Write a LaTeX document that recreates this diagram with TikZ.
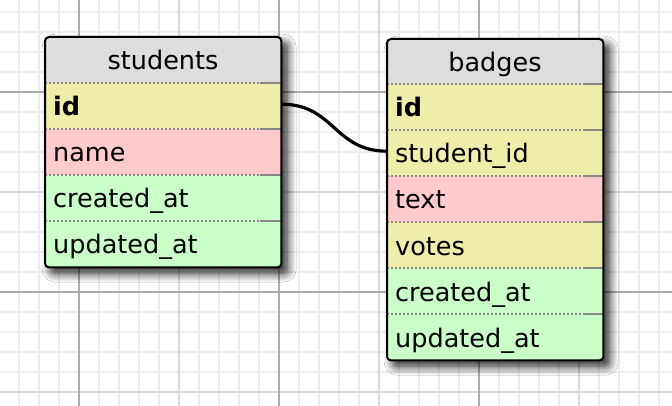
\documentclass[tikz,border=0pt]{standalone}
\usepackage{fontspec}
\setmainfont{DejaVu Sans}
\usetikzlibrary{shadows.blur}
\definecolor{hdr}{HTML}{DDDDDD}
\definecolor{kyel}{HTML}{EEEDAA}
\definecolor{kred}{HTML}{FFCACA}
\definecolor{kgrn}{HTML}{CAFFCA}
\definecolor{gminor}{HTML}{EDEDED}
\definecolor{gmed}{HTML}{D9D9D9}
\definecolor{gmaj}{HTML}{ABABAB}
\definecolor{sepc}{HTML}{888888}
\tikzset{
  tablebox/.style={rectangle, rounded corners=4pt, fill=white, inner sep=0pt, anchor=north west,
    blur shadow={shadow xshift=6pt, shadow yshift=-6pt, shadow blur radius=9pt, shadow opacity=90, shadow blur steps=12}},
  rowbox/.style={rectangle, inner sep=0pt, anchor=north west, minimum height=46pt},
  lbl/.style={inner sep=0pt, anchor=base west, font=\fontsize{25.5}{30}\selectfont},
  hlbl/.style={inner sep=0pt, anchor=base, font=\fontsize{25.5}{30}\selectfont},
  sepdot/.style={draw=sepc, line width=2pt, dash pattern=on 2pt off 2pt},
  sepsolid/.style={draw=sepc, line width=2pt},
  frame/.style={draw=black, line width=2pt, rounded corners=4pt},
  conn/.style={draw=black, line width=3.2pt},
}
\begin{document}
\begin{tikzpicture}[x=1pt,y=-1pt]
\useasboundingbox (0,0) rectangle (672,406);
% grid
\fill[white] (0,0) rectangle (672,406);
\foreach \x in {-1,19,...,671} \draw[gminor,line width=2pt] (\x,0) -- (\x,406);
\foreach \y in {12,32,...,412} \draw[gminor,line width=2pt] (0,\y) -- (672,\y);
\foreach \x in {179,379,579} \draw[gmed,line width=1.5pt] (\x,0) -- (\x,406);
\foreach \y in {192,392} \draw[gmed,line width=1.5pt] (0,\y) -- (672,\y);
\foreach \x in {79,279,479} \draw[gmaj,line width=1.2pt] (\x,0) -- (\x,406);
\foreach \y in {92,292} \draw[gmaj,line width=1.2pt] (0,\y) -- (672,\y);

% ---------- students ----------
\node[tablebox, minimum width=236pt, minimum height=230pt] (students) at (45,37) {};
\begin{scope}
\clip[rounded corners=4pt] (students.north west) rectangle (students.south east);
\node[rowbox, fill=hdr, minimum width=236pt] (s-head) at (45,37) {};
\node[rowbox, fill=kyel, minimum width=236pt] (s-id) at (45,83) {};
\node[rowbox, fill=kred, minimum width=236pt] (s-name) at (45,129) {};
\node[rowbox, fill=kgrn, minimum width=236pt] (s-cr) at (45,175) {};
\node[rowbox, fill=kgrn, minimum width=236pt] (s-up) at (45,221) {};
\end{scope}
\node[hlbl] (s-head-t) at (163,70) {students};
\node[lbl] (s-id-t) at ([xshift=8pt,yshift=-33pt]s-id.north west) {\textbf{id}};
\node[lbl] (s-name-t) at ([xshift=8pt,yshift=-33pt]s-name.north west) {name};
\node[lbl] (s-cr-t) at ([xshift=8pt,yshift=-33pt]s-cr.north west) {created\_at};
\node[lbl] (s-up-t) at ([xshift=8pt,yshift=-33pt]s-up.north west) {updated\_at};
\foreach \r in {s-id,s-name,s-cr,s-up}{
  \draw[sepdot] (\r.north west) -- ([xshift=-21pt]\r.north east);
  \draw[sepsolid] ([xshift=-21pt]\r.north east) -- (\r.north east);
}
\draw[frame] (students.north west) rectangle (students.south east);

% ---------- badges ----------
\node[tablebox, minimum width=216pt, minimum height=321pt] (badges) at (387,39) {};
\begin{scope}
\clip[rounded corners=4pt] (badges.north west) rectangle (badges.south east);
\node[rowbox, fill=hdr, minimum width=216pt, minimum height=45pt] (b-head) at (387,39) {};
\node[rowbox, fill=kyel, minimum width=216pt] (b-id) at (387,84) {};
\node[rowbox, fill=kyel, minimum width=216pt] (b-sid) at (387,130) {};
\node[rowbox, fill=kred, minimum width=216pt] (b-text) at (387,176) {};
\node[rowbox, fill=kyel, minimum width=216pt] (b-votes) at (387,222) {};
\node[rowbox, fill=kgrn, minimum width=216pt] (b-cr) at (387,268) {};
\node[rowbox, fill=kgrn, minimum width=216pt] (b-up) at (387,314) {};
\end{scope}
\node[hlbl] (b-head-t) at (495,72) {badges};
\node[lbl] (b-id-t) at ([xshift=8pt,yshift=-33pt]b-id.north west) {\textbf{id}};
\node[lbl] (b-sid-t) at ([xshift=8pt,yshift=-33pt]b-sid.north west) {student\_id};
\node[lbl] (b-text-t) at ([xshift=8pt,yshift=-33pt]b-text.north west) {text};
\node[lbl] (b-votes-t) at ([xshift=8pt,yshift=-33pt]b-votes.north west) {votes};
\node[lbl] (b-cr-t) at ([xshift=8pt,yshift=-33pt]b-cr.north west) {created\_at};
\node[lbl] (b-up-t) at ([xshift=8pt,yshift=-33pt]b-up.north west) {updated\_at};
\foreach \r in {b-id,b-sid,b-text,b-votes,b-cr,b-up}{
  \draw[sepdot] (\r.north west) -- ([xshift=-19pt]\r.north east);
  \draw[sepsolid] ([xshift=-19pt]\r.north east) -- (\r.north east);
}
\draw[frame] (badges.north west) rectangle (badges.south east);

% ---------- connector ----------
\draw[conn] ([yshift=2pt]s-id.east) .. controls +(53,0) and +(-53,0) .. ([yshift=2pt]b-sid.west);
\end{tikzpicture}
\end{document}
